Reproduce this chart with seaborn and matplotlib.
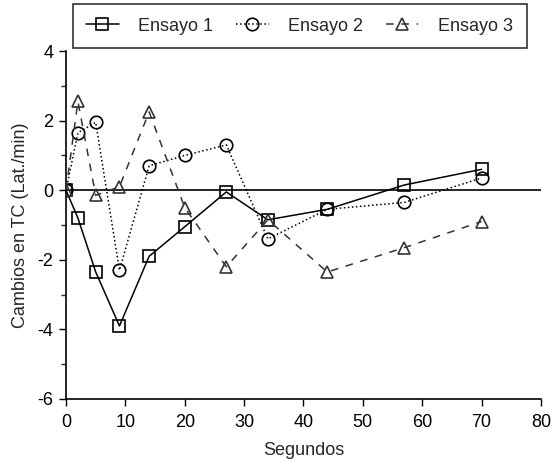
import seaborn as sns
import matplotlib.pyplot as plt
import pandas as pd
from matplotlib.ticker import MultipleLocator

# data
segundos = [0, 2, 5, 9, 14, 20, 27, 34, 44, 57, 70]
ensayo1 = [0, -0.8, -2.35, -3.9, -1.9, -1.05, -0.05, -0.85, -0.55, 0.15, 0.6]
ensayo2 = [0, 1.65, 1.95, -2.3, 0.7, 1.0, 1.3, -1.4, -0.55, -0.35, 0.35]
ensayo3 = [0, 2.55, -0.15, 0.1, 2.25, -0.5, -2.2, -0.85, -2.35, -1.65, -0.9]

sns.set_style('ticks')
plt.rcParams['font.family'] = ['Liberation Sans', 'DejaVu Sans']
plt.rcParams['axes.unicode_minus'] = False

fig = plt.figure(figsize=(5.52, 4.62), dpi=100)
ax = fig.add_axes([0.1196, 0.1364, 0.8604, 0.7532])

ax.axhline(0, color='black', lw=1.2, zorder=1)

series = [
    ('Ensayo 1', ensayo1, 's', '-', 'black', 9),
    ('Ensayo 2', ensayo2, 'o', ':', 'black', 9),
    ('Ensayo 3', ensayo3, '^', (0, (5, 5)), '#333333', 9),
]
for name, vals, mk, ls, col, ms in series:
    df = pd.DataFrame({'x': segundos, 'y': vals})
    sns.lineplot(data=df, x='x', y='y', ax=ax, color=col, linestyle=ls, lw=1.1,
                 marker=mk, markersize=ms, mfc='none', mec=col, mew=1.2,
                 label=name, zorder=3)

ax.set_xlim(0, 80)
ax.set_ylim(-6, 4)
ax.xaxis.set_major_locator(MultipleLocator(10))
ax.yaxis.set_major_locator(MultipleLocator(2))
ax.yaxis.set_minor_locator(MultipleLocator(1))
ax.tick_params(axis='both', labelsize=13, colors='black', width=1, length=5)
ax.tick_params(axis='x', pad=6)
ax.tick_params(axis='y', pad=4)
ax.tick_params(axis='y', which='minor', length=3.5, width=1)
for s in ['top', 'right']:
    ax.spines[s].set_visible(False)
for s in ['left', 'bottom']:
    ax.spines[s].set_linewidth(1.2)
    ax.spines[s].set_color('black')

ax.set_xlabel('Segundos', fontsize=13, labelpad=8)
ax.set_ylabel('Cambios en TC (Lat./min)', fontsize=13, labelpad=6)

leg = ax.legend(loc='lower center', bbox_to_anchor=(0.492, 1.0), ncol=3,
                fontsize=13, frameon=True, fancybox=False, handlelength=1.8,
                columnspacing=1.25, borderpad=0.75, handletextpad=1.1,
                borderaxespad=0.15)
leg.get_frame().set_edgecolor('black')
leg.get_frame().set_linewidth(1.2)

fig.savefig('out.png', dpi=100)
